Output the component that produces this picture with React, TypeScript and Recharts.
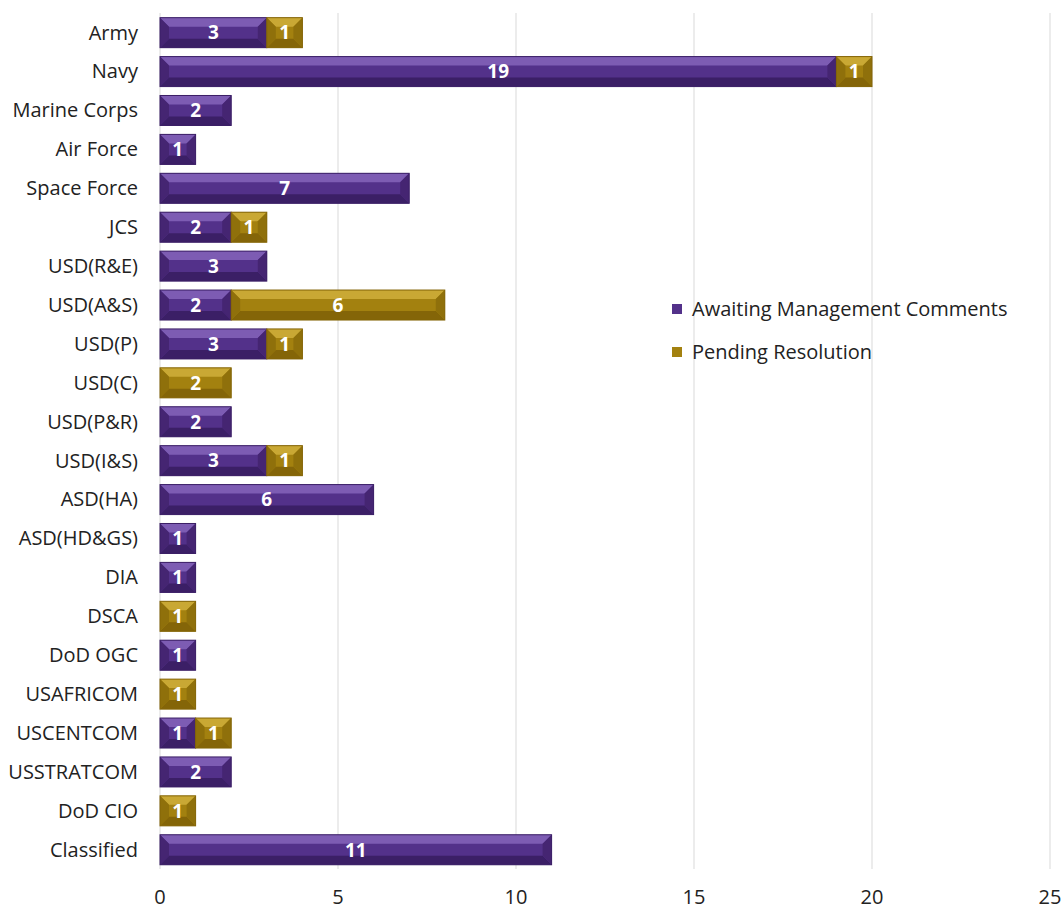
import { BarChart, Bar, XAxis, YAxis, CartesianGrid, LabelList } from "recharts";

const categories = [
  "Army", "Navy", "Marine Corps", "Air Force", "Space Force", "JCS", "USD(R&E)", "USD(A&S)",
  "USD(P)", "USD(C)", "USD(P&R)", "USD(I&S)", "ASD(HA)", "ASD(HD&GS)", "DIA", "DSCA",
  "DoD OGC", "USAFRICOM", "USCENTCOM", "USSTRATCOM", "DoD CIO", "Classified",
];
const awaiting = [3, 19, 2, 1, 7, 2, 3, 2, 3, null, 2, 3, 6, 1, 1, null, 1, null, 1, 2, null, 11];
const pending = [1, 1, null, null, null, 1, null, 6, 1, 2, null, 1, null, null, null, 1, null, 1, 1, null, 1, null];
const xTicks = [0, 5, 10, 15, 20, 25];

const FONT = "'Open Sans', sans-serif";

const data = categories.map((name, i) => ({ name, awaiting: awaiting[i], pending: pending[i] }));

const PALETTE = {
  purple: { base: "#53318a", top: "#7d5cb3", bottom: "#3b1f66", side: "#452572" },
  gold: { base: "#a3810f", top: "#c9a834", bottom: "#846508", side: "#8f700b" },
};

function bevelShape(kind: "purple" | "gold") {
  const c = PALETTE[kind];
  return (props: any) => {
    const { x, y, width, height } = props;
    if (!width || width <= 0) return <g />;
    const b = Math.min(height * 0.3, width / 2);
    return (
      <g>
        <rect x={x} y={y} width={width} height={height} fill={c.base} />
        <polygon points={`${x},${y} ${x + width},${y} ${x + width - b},${y + b} ${x + b},${y + b}`} fill={c.top} />
        <polygon points={`${x},${y + height} ${x + width},${y + height} ${x + width - b},${y + height - b} ${x + b},${y + height - b}`} fill={c.bottom} />
        <polygon points={`${x},${y} ${x + b},${y + b} ${x + b},${y + height - b} ${x},${y + height}`} fill={c.side} />
        <polygon points={`${x + width},${y} ${x + width - b},${y + b} ${x + width - b},${y + height - b} ${x + width},${y + height}`} fill={c.side} />
        <rect x={x} y={y} width={width} height={height} fill="none" stroke={c.bottom} strokeWidth={1} />
      </g>
    );
  };
}

const legendItems = [
  { label: "Awaiting Management Comments", color: PALETTE.purple.base },
  { label: "Pending Resolution", color: PALETTE.gold.base },
];

export default function App() {
  return (
    <div style={{ position: "absolute", left: 0, top: 0, width: 1063, height: 909, background: "#fff" }}>
      <BarChart
        width={1063}
        height={909}
        data={data}
        layout="vertical"
        margin={{ top: 13, right: 13, bottom: 0, left: 0 }}
        barCategoryGap="12%"
      >
        <CartesianGrid horizontal={false} stroke="#d9d9d9" />
        <XAxis
          type="number"
          domain={[0, 25]}
          ticks={xTicks}
          axisLine={false}
          tickLine={false}
          tickSize={0}
          tickMargin={21}
          height={40}
          tick={{ fontFamily: FONT, fontSize: 20, fill: "#222" }}
        />
        <YAxis
          type="category"
          dataKey="name"
          width={160}
          axisLine={false}
          tickLine={false}
          tickSize={0}
          tickMargin={22}
          interval={0}
          tick={{ fontFamily: FONT, fontSize: 20, fill: "#222" }}
        />
        <Bar dataKey="awaiting" stackId="a" name="Awaiting Management Comments" fill={PALETTE.purple.base} shape={bevelShape("purple")} isAnimationActive={false}>
          <LabelList dataKey="awaiting" position="center" fill="#fff" fontFamily={FONT} fontSize={19} fontWeight="bold" />
        </Bar>
        <Bar dataKey="pending" stackId="a" name="Pending Resolution" fill={PALETTE.gold.base} shape={bevelShape("gold")} isAnimationActive={false}>
          <LabelList dataKey="pending" position="center" fill="#fff" fontFamily={FONT} fontSize={19} fontWeight="bold" />
        </Bar>
      </BarChart>
      <div style={{ position: "absolute", left: 672, top: 287, fontFamily: FONT, fontSize: 20, color: "#222" }}>
        {legendItems.map((it) => (
          <div key={it.label} style={{ display: "flex", alignItems: "center", height: 43, whiteSpace: "nowrap" }}>
            <span style={{ width: 10, height: 10, background: it.color, display: "inline-block", marginRight: 10 }} />
            {it.label}
          </div>
        ))}
      </div>
    </div>
  );
}
